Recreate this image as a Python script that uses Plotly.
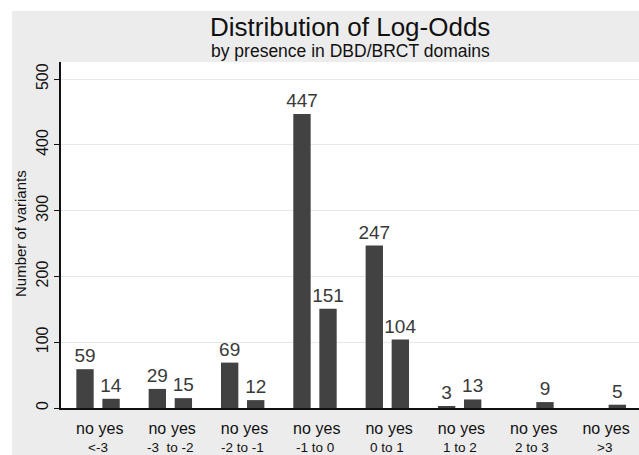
import plotly.graph_objects as go

# ---- data ----
bins = ["<-3", "-3  to -2", "-2 to -1", "-1 to 0", "0 to 1", "1 to 2", "2 to 3", ">3"]
no_counts = [59, 29, 69, 447, 247, 3, None, None]
yes_counts = [14, 15, 12, 151, 104, 13, 9, 5]
y_ticks = [0, 100, 200, 300, 400, 500]

title = "Distribution of Log-Odds"
subtitle = "by presence in DBD/BRCT domains"
ytitle = "Number of variants"

# ---- layout geometry ----
W, H = 639, 455
ML, MR, MT, MB = 61, 0, 62, 47
pw, ph = W - ML - MR, H - MT - MB
off = 0.18
bw = 0.24
BAR = "#424242"
FONT = "Liberation Sans, Arial, sans-serif"
LBL = "#3a3a3a"

xs = list(range(len(bins)))
x_no = [x - off for x in xs]
x_yes = [x + off for x in xs]

def lab(v):
    return "" if v is None else str(v)

fig = go.Figure()
for xv, yv, nm in [(x_no, no_counts, "no"), (x_yes, yes_counts, "yes")]:
    fig.add_trace(go.Bar(x=xv, y=yv, width=bw, marker=dict(color=BAR, line=dict(width=0)),
                         text=[lab(v) for v in yv], textposition="outside", constraintext="none",
                         textfont=dict(color=LBL, size=19, family=FONT),
                         outsidetextfont=dict(color=LBL, size=19, family=FONT),
                         cliponaxis=False, name=nm, hoverinfo="skip"))

tickvals, ticktext = [], []
for a, b in zip(x_no, x_yes):
    tickvals += [a, b]
    ticktext += ["no", "yes"]

def px_x(p):
    return (p - ML) / pw

def px_y(p):
    return (H - MB - p) / ph

annotations = [
    dict(text=title, x=px_x(350), y=px_y(27), xref="paper", yref="paper", showarrow=False,
         xanchor="center", yanchor="middle", font=dict(size=26, color="#111", family=FONT)),
    dict(text=subtitle, x=px_x(350), y=px_y(51), xref="paper", yref="paper", showarrow=False,
         xanchor="center", yanchor="middle", font=dict(size=17.5, color="#111", family=FONT)),
    dict(text=ytitle, x=px_x(20), y=px_y(234), xref="paper", yref="paper", showarrow=False,
         xanchor="center", yanchor="middle", textangle=-90, font=dict(size=15, color="#111", family=FONT)),
]
for x, b in zip(xs, bins):
    annotations.append(dict(text=b, x=x, y=px_y(447), xref="x", yref="paper", showarrow=False,
                            xanchor="center", yanchor="middle", font=dict(size=13.5, color="#111", family=FONT)))

shapes = [
    dict(type="rect", xref="paper", yref="paper", x0=px_x(-5), x1=px_x(12), y0=px_y(H + 5), y1=px_y(-5),
         fillcolor="white", line=dict(width=0), layer="below"),
    dict(type="rect", xref="paper", yref="paper", x0=px_x(-5), x1=px_x(W + 5), y0=px_y(11), y1=px_y(-5),
         fillcolor="white", line=dict(width=0), layer="below"),
]

fig.update_layout(
    width=W, height=H,
    margin=dict(l=ML, r=MR, t=MT, b=MB, pad=0),
    paper_bgcolor="#ececec", plot_bgcolor="white",
    showlegend=False, barmode="overlay",
    font=dict(family=FONT, color="#111"),
    annotations=annotations, shapes=shapes,
    xaxis=dict(range=[-0.512, 7.48], tickmode="array", tickvals=tickvals, ticktext=ticktext,
               showgrid=False, zeroline=False, showline=True, linecolor="#111", linewidth=1.5,
               ticks="", tickfont=dict(size=16, color="#111"), ticklabelstandoff=5, fixedrange=True),
    yaxis=dict(range=[0, 526], tickmode="array", tickvals=y_ticks, ticktext=[str(v) for v in y_ticks],
               tickangle=-90, showgrid=True, gridcolor="#e8e8e8", gridwidth=1, zeroline=False,
               showline=True, linecolor="#111", linewidth=1.5, ticks="outside", ticklen=5,
               tickcolor="#111", tickfont=dict(size=16, color="#111"), fixedrange=True),
)

fig.write_html("out.html", config={"displayModeBar": False},
               post_script="document.body.style.margin='0';")
